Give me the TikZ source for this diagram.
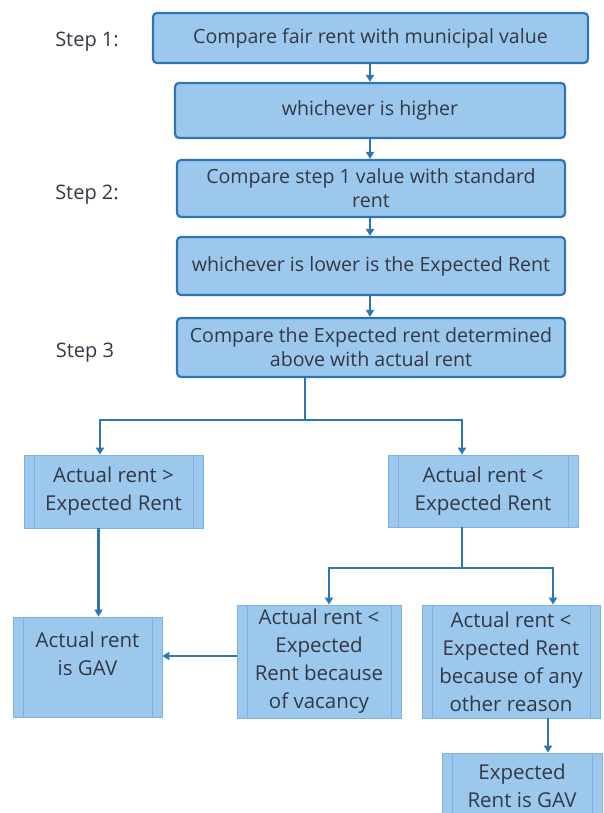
\documentclass[tikz,border=0pt]{standalone}
\usepackage{fontspec}
\setmainfont{Open Sans}
\usetikzlibrary{arrows.meta,calc}
\definecolor{boxfill}{HTML}{9DC8EE}
\definecolor{boxline}{HTML}{2E75B6}
\definecolor{softline}{HTML}{7FB2E0}
\definecolor{txt}{HTML}{333845}
\tikzset{
  every node/.style={text=txt, align=center, inner sep=0pt},
  topfont/.style={font=\fontsize{19.6pt}{24pt}\selectfont},
  lowfont/.style={font=\fontsize{20.5pt}{28pt}\selectfont},
  topbox/.style={topfont, draw=boxline, line width=2.2pt, fill=boxfill, rounded corners=4pt},
  lowbox/.style={lowfont, draw=softline, line width=0.8pt, fill=boxfill,
    path picture={
      \draw[softline, line width=0.6pt] ([xshift=10pt]path picture bounding box.north west) -- ([xshift=10pt]path picture bounding box.south west);
      \draw[softline, line width=0.6pt] ([xshift=-10pt]path picture bounding box.north east) -- ([xshift=-10pt]path picture bounding box.south east);
    }},
  steplabel/.style={font=\fontsize{20pt}{24pt}\selectfont},
  conn/.style={draw=boxline, line width=2.3pt},
  arr/.style={conn, -{Triangle[length=7pt,width=8pt]}},
}
\begin{document}
\begin{tikzpicture}[x=1pt,y=-1pt]
\path[use as bounding box] (0,0) rectangle (603,813);
% top chain
\node[topbox, minimum width=435pt, minimum height=50pt] (b1) at (370.5,38) {Compare fair rent with municipal value};
\node[topbox, minimum width=390pt, minimum height=55pt] (b2) at (370,110.5) {whichever is higher};
\node[topbox, minimum width=388pt, minimum height=57pt] (b3) at (371,188.5) {Compare step 1 value with standard\\rent};
\node[topbox, minimum width=388pt, minimum height=58pt] (b4) at (371,266) {whichever is lower is the Expected Rent};
\node[topbox, minimum width=388pt, minimum height=59pt] (b5) at (371,347.5) {Compare the Expected rent determined\\above with actual rent};
% step labels
\node[steplabel] (s1) at (87,42) {Step 1:};
\node[steplabel] (s2) at (87,195) {Step 2:};
\node[steplabel] (s3) at (85,353) {Step 3};
% lower boxes
\node[lowbox, minimum width=179pt, minimum height=73pt] (bA) at (113.5,491.5) {Actual rent >\\Expected Rent};
\node[lowbox, minimum width=190pt, minimum height=72pt] (bB) at (483,491) {Actual rent <\\Expected Rent};
\node[lowbox, minimum width=149pt, minimum height=100pt] (bC) at (87.5,667) {};
\node[lowfont] (tC) at ([yshift=13pt]bC.center) {Actual rent\\is GAV};
\node[lowbox, minimum width=164pt, minimum height=113pt] (bD) at (319,661.5) {Actual rent <\\Expected\\Rent because\\of vacancy};
\node[lowbox, minimum width=178pt, minimum height=113pt] (bE) at (511,661.5) {Actual rent <\\Expected Rent\\because of any\\other reason};
\node[lowbox, minimum width=160pt, minimum height=66pt] (bF) at (522,786) {Expected\\Rent is GAV};
% connectors top
\draw[arr] ([xshift=-0.5pt]b1.south) -- ([xshift=-0.5pt]b1.south |- b2.north);
\draw[arr] (b2.south) -- (b2.south |- b3.north);
\draw[arr] ([xshift=-1pt]b3.south) -- ([xshift=-1pt]b3.south |- b4.north);
\draw[arr] ([xshift=-1pt]b4.south) -- ([xshift=-1pt]b4.south |- b5.north);
% split 1
\coordinate (j1) at (305,420);
\draw[conn] (b5.south -| j1) -- (j1);
\draw[arr] (j1) -| ([xshift=-13.5pt]bA.north);
\draw[arr] (j1) -| ([xshift=-21pt]bB.north);
\draw[arr] ([xshift=-15pt]bA.south) -- ([xshift=-15pt]bA.south |- bC.north);
% split 2
\coordinate (j2) at (462,568);
\draw[conn] (bB.south -| j2) -- (j2);
\draw[arr] (j2) -| ([xshift=10pt]bD.north);
\draw[arr] (j2) -| ([xshift=42pt]bE.north);
\draw[arr] ([yshift=5.5pt]bD.west) -- ([yshift=5.5pt]bD.west -| bC.east);
\draw[arr] ([xshift=37pt]bE.south) -- ([xshift=37pt]bE.south |- bF.north);
\end{tikzpicture}
\end{document}
